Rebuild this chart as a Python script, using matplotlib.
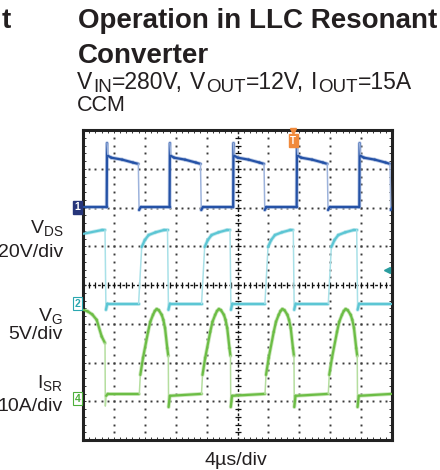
import numpy as np
import matplotlib
matplotlib.use('Agg')
import matplotlib.pyplot as plt
from matplotlib.collections import LineCollection

plt.rcParams['font.family'] = ['Liberation Sans', 'DejaVu Sans']
plt.rcParams['mathtext.fontset'] = 'custom'
plt.rcParams['mathtext.rm'] = 'Liberation Sans'
plt.rcParams['mathtext.it'] = 'Liberation Sans:italic'
plt.rcParams['mathtext.bf'] = 'Liberation Sans:bold'

# time base: 4 us/div, 10 div
t_span = 40.0

# VDS (ch1), 20 V/div
vds_rise = [3.07, 11.21, 19.44, 27.66, 35.77]
vds_fall = [7.16, 15.21, 23.43, 31.62, 39.74]
vds_on_dt = [0.0, 0.04, 0.15, 0.6, 2.0, 3.4]
vds_on_v = [0.0, 33.0, 26.5, 25.5, 24.5, 23.0]
vds_off_dt = [0.0, 0.1, 0.3]
vds_off_v = [22.3, -1.5, 0.0]

# VG (ch2), 5 V/div
vg_head_t = [0.0, 2.5]
vg_head_v = [9.0, 9.5]
vg_fall = [2.85, 10.94, 19.03, 27.22, 35.43]
vg_rise = [7.2, 15.35, 23.55, 31.75]
vg_on_dt = [0.0, 0.4, 0.8, 1.3, 2.2, 3.3]
vg_on_v = [0.0, 7.3, 8.2, 8.85, 9.2, 9.5]
vg_off_dt = [0.0, 0.12, 0.3]
vg_off_v = [9.5, -0.8, 0.0]

# ISR (ch4), 10 A/div
isr_head_t = [0.0, 0.6, 1.2, 1.77, 2.42, 2.85, 2.89, 3.0, 3.2]
isr_head_v = [23.0, 22.6, 21.8, 20.4, 16.1, 14.4, -1.8, 0.8, 1.3]
isr_start = [7.29, 15.34, 23.56, 31.75]
isr_dt = [0.0, 0.13, 0.48, 1.13, 1.42, 1.77, 2.01, 2.25, 2.52, 2.90, 3.11, 3.33,
          3.62, 3.75, 3.79, 3.95]
isr_v = [1.3, 6.2, 10.6, 17.3, 19.9, 21.7, 22.7, 23.2, 22.9, 21.7, 20.4, 18.3,
         13.1, 11.1, -2.1, 0.8]
isr_low = 1.3

# channel ground (div) and scale (units/div)
gnd = {'vds': 6.01, 'vg': 3.52, 'isr': 1.06}
scale = {'vds': 20.0, 'vg': 5.0, 'isr': 10.0}

# build traces
t1, v1 = [0.0], [0.0]
for r, f in zip(vds_rise, vds_fall):
    t1 += [r + d for d in vds_on_dt]; v1 += vds_on_v
    t1 += [f + d for d in vds_off_dt]; v1 += vds_off_v
t1.append(t_span); v1.append(0.0)

t2, v2 = list(vg_head_t), list(vg_head_v)
for i, f in enumerate(vg_fall):
    t2 += [f + d for d in vg_off_dt]; v2 += vg_off_v
    if i < len(vg_rise):
        t2 += [vg_rise[i] + d for d in vg_on_dt]; v2 += vg_on_v
t2.append(t_span); v2.append(0.0)

t4, v4 = list(isr_head_t), list(isr_head_v)
for s in isr_start:
    t4 += [s + d for d in isr_dt]; v4 += isr_v
t4.append(t_span); v4.append(isr_low)

fig = plt.figure(figsize=(4.4, 4.7), dpi=100)
ax = fig.add_axes([83/440, 30/470, 309/440, 310/470])
ax.set_xlim(0, t_span)
ax.set_ylim(0, 8)

# graticule
xmaj = np.arange(0, 40.1, 4)
ymaj = np.arange(0, 8.1, 1)
xmin = np.arange(0, 40.01, 0.8)
ymin = np.arange(0, 8.01, 0.2)
ax.set_xticks(xmaj); ax.set_xticks(xmin, minor=True)
ax.set_yticks(ymaj); ax.set_yticks(ymin, minor=True)
ax.tick_params(which='both', direction='in', length=2, width=0.7, color='#333333',
               top=True, right=True, labelbottom=False, labelleft=False)
for sp in ax.spines.values():
    sp.set_linewidth(2.2)
    sp.set_color('#222222')

gx, gy = [], []
for xv in xmaj[1:-1]:
    if xv != 20:
        gx += [xv] * len(ymin); gy += list(ymin)
for yv in ymaj[1:-1]:
    if yv != 4:
        gx += list(xmin); gy += [yv] * len(xmin)
ax.plot(gx, gy, ls='none', marker='s', ms=1.4, mew=0, color='#3a3a3a', zorder=1)
ax.axvline(20, color='#111111', lw=1.0, ls=(0, (2, 1.5)), zorder=1)
ax.axhline(4, color='#111111', lw=1.0, ls=(0, (2, 1.5)), zorder=1)
ax.plot(xmin, [4] * len(xmin), ls='none', marker='|', ms=4, mew=0.9, color='#111111', zorder=1)
ax.plot([20] * len(ymin), ymin, ls='none', marker='_', ms=4, mew=0.9, color='#111111', zorder=1)


def trace(t, v, key, dark, light, rise_dark=False):
    y = gnd[key] + np.array(v) / scale[key]
    x = np.array(t)
    pts = np.column_stack([x, y])
    segs = np.stack([pts[:-1], pts[1:]], axis=1)
    dx = np.diff(x) / 4.0
    dy = np.diff(y)
    steep = np.abs(dy) > 9 * np.maximum(dx, 1e-6)
    if rise_dark:
        steep = steep & (dy < 0)
    cols = [light if s else dark for s in steep]
    lws = [1.1 if s else 1.6 for s in steep]
    ax.add_collection(LineCollection(segs[~steep], colors=light, linewidths=2.8,
                                     alpha=0.7, capstyle='round', zorder=2))
    ax.add_collection(LineCollection(segs, colors=cols, linewidths=lws,
                                     capstyle='round', zorder=3))


trace(t4, v4, 'isr', '#6CBD45', '#B5DE9F')
trace(t2, v2, 'vg', '#5CC6D4', '#A9E1E8')
trace(t1, v1, 'vds', '#2552A6', '#9DB3DC', rise_dark=True)

# channel markers
ax.text(-0.35, gnd['vds'], '1', ha='right', va='center', fontsize=7.5, fontweight='bold',
        color='white', clip_on=False,
        bbox=dict(boxstyle='square,pad=0.15', fc='#26357A', ec='#26357A'))
ax.text(-0.35, gnd['vg'], '2', ha='right', va='center', fontsize=7.5, fontweight='bold',
        color='#2AA7B0', clip_on=False,
        bbox=dict(boxstyle='square,pad=0.15', fc='white', ec='#2AA7B0', lw=0.8))
ax.text(-0.35, gnd['isr'], '4', ha='right', va='center', fontsize=7.5, fontweight='bold',
        color='#4DAF3A', clip_on=False,
        bbox=dict(boxstyle='square,pad=0.15', fc='white', ec='#4DAF3A', lw=0.8))
ax.text(27.2, 7.72, 'T', ha='center', va='center', fontsize=7, fontweight='bold',
        color='white', clip_on=False,
        bbox=dict(boxstyle='square,pad=0.15', fc='#F08A3C', ec='#F08A3C'))
ax.plot([27.2], [7.97], marker='v', ms=4, color='#F08A3C', clip_on=False, zorder=5)
ax.plot([39.35], [4.39], marker='<', ms=5, color='#2A9D9F', clip_on=False, zorder=5)

# texts
tc = '#231F20'
renderer = fig.canvas.get_renderer()


def ftext(xp, yp, s, **kw):
    return fig.text(xp / 440, 1 - yp / 470, s, color=tc, va='baseline', **kw)


def runs(xp, yp, parts):
    # parts: (text, fontsize, drop px, gap px after)
    for s, size, drop, gap in parts:
        t = ftext(xp, yp + drop, s, fontsize=size)
        xp = t.get_window_extent(renderer).x1 + gap


ftext(2, 28, 't', fontsize=20, fontweight='bold')
ftext(78, 28, 'Operation in LLC Resonant', fontsize=20, fontweight='bold')
ftext(78, 63, 'Converter', fontsize=20, fontweight='bold')
runs(77, 89, [('V', 16.5, 0, 0.5), ('IN', 13.5, 3, 0.5), ('=280V,', 16.5, 0, 7),
              ('V', 16.5, 0, 0.5), ('OUT', 13.5, 3, 0.5), ('=12V,', 16.5, 0, 7),
              ('I', 16.5, 0, 0.5), ('OUT', 13.5, 3, 0.5), ('=15A', 16.5, 0, 0)])
ftext(77, 111, 'CCM', fontsize=15.5)

ftext(63, 233, r'V$_{\mathrm{DS}}$', fontsize=14, ha='right')
ftext(63, 257, '20V/div', fontsize=14, ha='right')
ftext(63, 321, r'V$_{\mathrm{G}}$', fontsize=14, ha='right')
ftext(63, 339, '5V/div', fontsize=14, ha='right')
ftext(63, 388, r'I$_{\mathrm{SR}}$', fontsize=14, ha='right')
ftext(63, 411, '10A/div', fontsize=14, ha='right')
ftext(236, 465, '4µs/div', fontsize=14, ha='center')

fig.savefig('out.png', dpi=100)
